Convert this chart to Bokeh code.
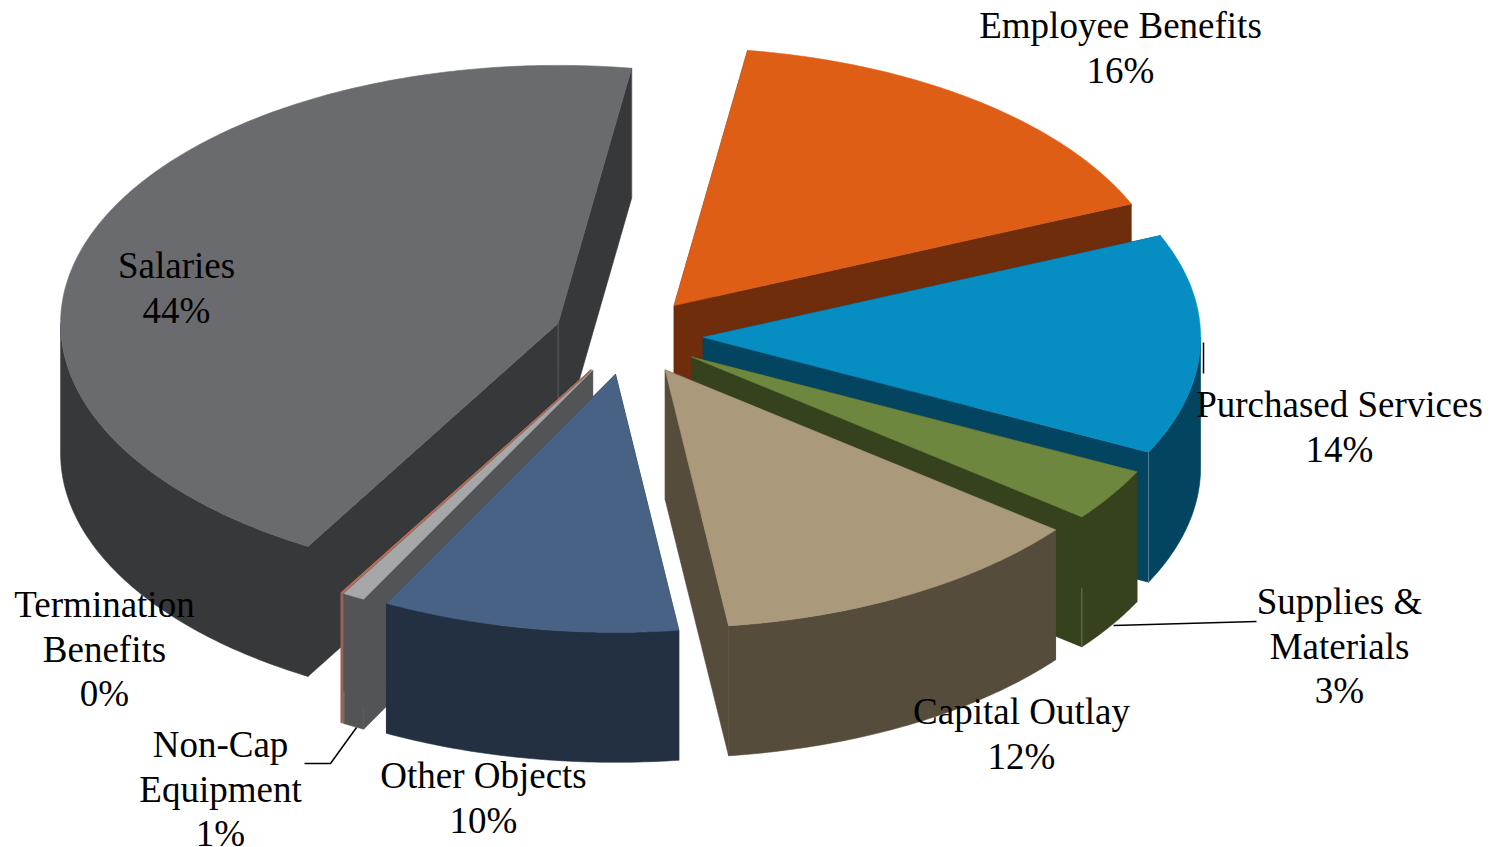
import math
from bokeh.plotting import figure
from bokeh.embed import file_html
from bokeh.resources import INLINE
from bokeh.core.properties import value

# ---- data (clockwise from the top of the pie) ----
categories = ["Employee Benefits", "Purchased Services", "Supplies & Materials",
              "Capital Outlay", "Other Objects", "Non-Cap Equipment",
              "Termination Benefits", "Salaries"]
values = [16.2, 13.8, 3.3, 12.33, 9.65, 0.72, 0.05, 44.0]
percent_labels = ["16%", "14%", "3%", "12%", "10%", "1%", "0%", "44%"]
label_lines = [["Employee Benefits"], ["Purchased Services"], ["Supplies &", "Materials"],
               ["Capital Outlay"], ["Other Objects"], ["Non-Cap", "Equipment"],
               ["Termination", "Benefits"], ["Salaries"]]

# ---- styles and layout ----
top_colors = ["#DF5E16", "#068DC2", "#6D883E", "#AA9A7B", "#476285", "#A6A7A9", "#C0705A", "#6A6B6E"]
wall_colors = ["#702D0B", "#034560", "#36421E", "#554C3C", "#233041", "#535455", "#9C6353", "#37383A"]
seam_colors = {"Purchased Services": "#4F7F95", "Supplies & Materials": "#6B7458",
               "Non-Cap Equipment": "#7A7B7C", "Salaries": "#5E5F61"}
seam_start = {"Purchased Services": 0.0, "Supplies & Materials": 0.55,
              "Non-Cap Equipment": 0.75, "Salaries": 0.0}
draw_order = [7, 0, 1, 2, 3, 6, 5, 4]
label_x = [1120, 1339, 1339, 1021, 483, 220, 104, 176]
label_y = [25, 404, 601, 711, 775, 744, 604, 265]
line_step = 44.6
FONT_PX = "37px"
CX, CY, RX, RY, DEPTH, EXPLODE, START = 628, 335.7, 497.5, 258, 130, 0.15, 81.5
leaders = [([1203, 1203], [342, 373]),
           ([1113, 1256], [625, 621]),
           ([304, 330, 356], [763, 763, 727])]


def arc(px, py, a0, a1, dy=0.0):
    n = max(2, int(abs(a1 - a0) * 1.5) + 2)
    xs, ys = [], []
    for i in range(n):
        t = math.radians(a0 + (a1 - a0) * i / (n - 1))
        xs.append(px + RX * math.cos(t))
        ys.append(py - RY * math.sin(t) + dy)
    return xs, ys


total = sum(values)
slices = []
ang = START
for v in values:
    a0 = ang
    a1 = ang - v / total * 360
    mid = math.radians((a0 + a1) / 2)
    px = CX + EXPLODE * RX * math.cos(mid)
    py = CY - EXPLODE * RY * math.sin(mid)
    slices.append((a0, a1, px, py))
    ang = a1

p = figure(width=1503, height=847, x_range=(0, 1503), y_range=(847, 0),
           output_backend="svg", toolbar_location=None, min_border=0,
           background_fill_color="white", border_fill_color="white")
p.axis.visible = False
p.grid.visible = False
p.outline_line_color = None

for idx in draw_order:
    a0, a1, px, py = slices[idx]
    name = categories[idx]
    wall = wall_colors[idx]
    top = top_colors[idx]
    xs, ys, cs = [], [], []
    # the two cut faces
    for a in (a0, a1):
        ex, ey = arc(px, py, a, a, 0)
        ex, ey = ex[0], ey[0]
        xs.append([px, ex, ex, px])
        ys.append([py, ey, ey + DEPTH, py + DEPTH])
        cs.append(wall)
    # rim: the front half of the ellipse only
    lo, hi = a1, a0
    segs = []
    for rng in ((-180, 0), (180, 360), (-540, -360)):
        l, h = max(lo, rng[0]), min(hi, rng[1])
        if h > l:
            segs.append((l, h))
    for l, h in segs:
        tx, ty = arc(px, py, l, h)
        bx, by = arc(px, py, h, l, DEPTH)
        xs.append(tx + bx)
        ys.append(ty + by)
        cs.append(wall)
    p.patches(xs, ys, fill_color=cs, line_color=cs, line_width=0.6)
    # top face
    tx, ty = arc(px, py, a0, a1)
    p.patch([px] + tx, [py] + ty, fill_color=top, line_color=top, line_width=0.6)
    # seam where the cut face meets the rim
    if name in seam_colors:
        ex, ey = arc(px, py, a1, a1)
        f = seam_start[name]
        p.line([ex[0], ex[0]], [ey[0] + DEPTH * f, ey[0] + DEPTH],
               line_color=seam_colors[name], line_width=1)
        if name == "Salaries":
            p.line([px, px], [py, py + DEPTH], line_color=seam_colors[name], line_width=1)

for lx, ly in leaders:
    p.line(lx, ly, line_color="black", line_width=1.5)

tx, ty, tt = [], [], []
for i in range(len(categories)):
    lines = label_lines[i] + [percent_labels[i]]
    for j, t in enumerate(lines):
        tx.append(label_x[i])
        ty.append(label_y[i] + j * line_step)
        tt.append(t)
p.text(tx, ty, text=tt, text_font=value("Liberation Serif"), text_font_size=value(FONT_PX),
       text_align="center", text_baseline="middle", text_color="black")

open("out.html", "w").write(file_html(p, INLINE))
